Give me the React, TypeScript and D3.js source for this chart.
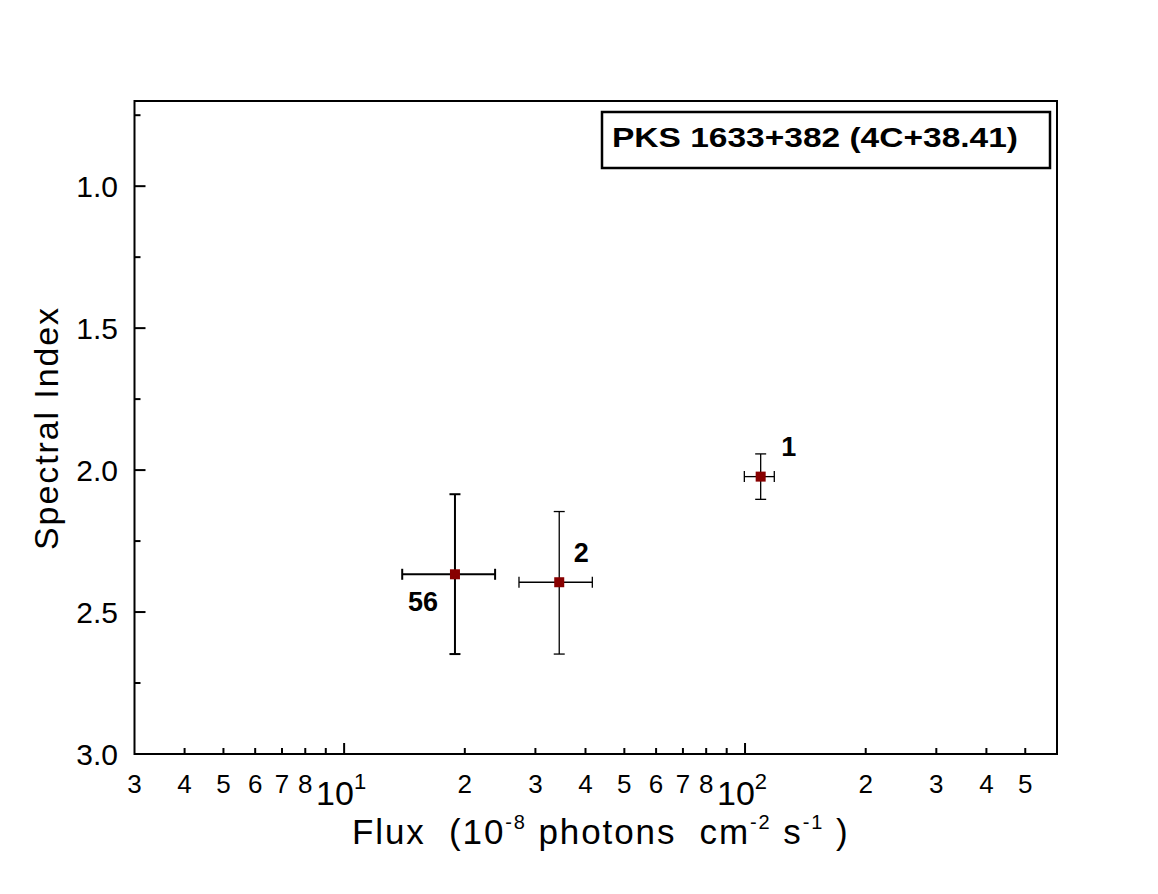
import React from "react";
import * as d3 from "d3";

const W = 1158;
const H = 894;

const pointLabels = ["56", "2", "1"];
const fluxValues = [18.9, 34.4, 109.4];
const fluxLow = [13.96, 27.3, 99.6];
const fluxHigh = [23.8, 41.6, 118.3];
const indexValues = [2.367, 2.395, 2.023];
const indexLow = [2.085, 2.146, 1.943];
const indexHigh = [2.648, 2.648, 2.103];
const errWidths = [2, 1.3, 1.3];

const xMinorTicks = [4, 5, 6, 7, 8, 9, 20, 30, 40, 50, 60, 70, 80, 90, 200, 300, 400, 500];
const xMajorTicks = [10, 100];
const xMinorLabels = [3, 4, 5, 6, 7, 8, 20, 30, 40, 50, 60, 70, 80, 200, 300, 400, 500];
const yMajorTicks = [1.0, 1.5, 2.0, 2.5, 3.0];
const yMinorTicks = [0.75, 1.25, 1.75, 2.25, 2.75];

const FONT = "'Liberation Sans', Arial, Helvetica, sans-serif";

export default function App() {
  const left = 134.5, right = 1057, top = 101, bottom = 754;
  const x = d3.scaleLog().domain([3, 600]).range([left, right]);
  const y = d3.scaleLinear().domain([0.7, 3.0]).range([top, bottom]);

  const labelOffsets = [
    { dx: -32, dy: 37, anchor: "middle" },
    { dx: 22, dy: -20, anchor: "middle" },
    { dx: 28, dy: -21, anchor: "middle" },
  ];

  return (
    <svg
      width={W}
      height={H}
      style={{ position: "absolute", left: 0, top: 0, background: "#fff" }}
      fontFamily={FONT}
    >
      <rect x={0} y={0} width={W} height={H} fill="#fff" />
      {/* frame */}
      <rect x={left} y={top} width={right - left} height={bottom - top} fill="none" stroke="#000" strokeWidth={2} />

      {/* x ticks */}
      {xMinorTicks.map((t) => (
        <line key={"xm" + t} x1={x(t)} x2={x(t)} y1={bottom} y2={bottom - 6} stroke="#000" strokeWidth={2} />
      ))}
      {xMajorTicks.map((t) => (
        <line key={"xM" + t} x1={x(t)} x2={x(t)} y1={bottom} y2={bottom - 11} stroke="#000" strokeWidth={2} />
      ))}
      {xMinorLabels.map((t) => {
        const d = String(t)[0];
        return (
          <text key={"xl" + t} x={x(t)} y={793} fontSize={26} textAnchor="middle" fill="#000">
            {d}
          </text>
        );
      })}
      {xMajorTicks.map((t, i) => (
        <text key={"xL" + t} x={x(t) - 3} y={805} fontSize={34} textAnchor="middle" fill="#000">
          10
          <tspan fontSize={22} dy={-16}>{String(i + 1)}</tspan>
        </text>
      ))}

      {/* y ticks */}
      {yMinorTicks.map((t) => (
        <line key={"ym" + t} x1={left} x2={left + 6} y1={y(t)} y2={y(t)} stroke="#000" strokeWidth={2} />
      ))}
      {yMajorTicks.map((t) => (
        <line key={"yM" + t} x1={left} x2={left + 11} y1={y(t)} y2={y(t)} stroke="#000" strokeWidth={2} />
      ))}
      {yMajorTicks.map((t) => (
        <text key={"yl" + t} x={118} y={y(t) + 11} fontSize={30} textAnchor="end" fill="#000">
          {t.toFixed(1)}
        </text>
      ))}

      {/* axis titles */}
      <text x={352} y={844} fontSize={35} fill="#000" style={{ letterSpacing: "1.9px" }}>
        Flux{"\u00a0\u00a0"}(10
        <tspan fontSize={20} dy={-15}>-8</tspan>
        <tspan dy={15}>{" photons\u00a0\u00a0cm"}</tspan>
        <tspan fontSize={20} dy={-15}>{"-2"}</tspan>
        <tspan dy={15}>{" s"}</tspan>
        <tspan fontSize={20} dy={-15}>{"-1"}</tspan>
        <tspan dy={15}>{" )"}</tspan>
      </text>
      <text
        transform={`translate(58, 428) rotate(-90)`}
        fontSize={34}
        textAnchor="middle"
        fill="#000"
        style={{ letterSpacing: "1.9px" }}
      >
        Spectral Index
      </text>

      {/* legend box */}
      <rect x={602} y={112} width={448} height={56} fill="#fff" stroke="#000" strokeWidth={2.5} />
      <text x={612} y={147} fontSize={28} fontWeight="bold" fill="#000" textLength={406} lengthAdjust="spacingAndGlyphs">
        PKS 1633+382 (4C+38.41)
      </text>

      {/* error bars and points */}
      {fluxValues.map((f, i) => {
        const cx = x(f);
        const cy = y(indexValues[i]);
        const sw = errWidths[i];
        const xl = x(fluxLow[i]);
        const xh = x(fluxHigh[i]);
        const yl = y(indexLow[i]);
        const yh = y(indexHigh[i]);
        const c = 5.5;
        return (
          <g key={"p" + i}>
            <line x1={xl} x2={xh} y1={cy} y2={cy} stroke="#000" strokeWidth={sw} />
            <line x1={cx} x2={cx} y1={yl} y2={yh} stroke="#000" strokeWidth={sw} />
            <line x1={xl} x2={xl} y1={cy - c} y2={cy + c} stroke="#000" strokeWidth={sw} />
            <line x1={xh} x2={xh} y1={cy - c} y2={cy + c} stroke="#000" strokeWidth={sw} />
            <line x1={cx - c} x2={cx + c} y1={yl} y2={yl} stroke="#000" strokeWidth={sw} />
            <line x1={cx - c} x2={cx + c} y1={yh} y2={yh} stroke="#000" strokeWidth={sw} />
            <rect x={cx - 5} y={cy - 5} width={10} height={10} fill="#880000" />
            <text
              x={cx + labelOffsets[i].dx}
              y={cy + labelOffsets[i].dy}
              fontSize={27}
              fontWeight="bold"
              textAnchor={labelOffsets[i].anchor}
              fill="#000"
            >
              {pointLabels[i]}
            </text>
          </g>
        );
      })}
    </svg>
  );
}
